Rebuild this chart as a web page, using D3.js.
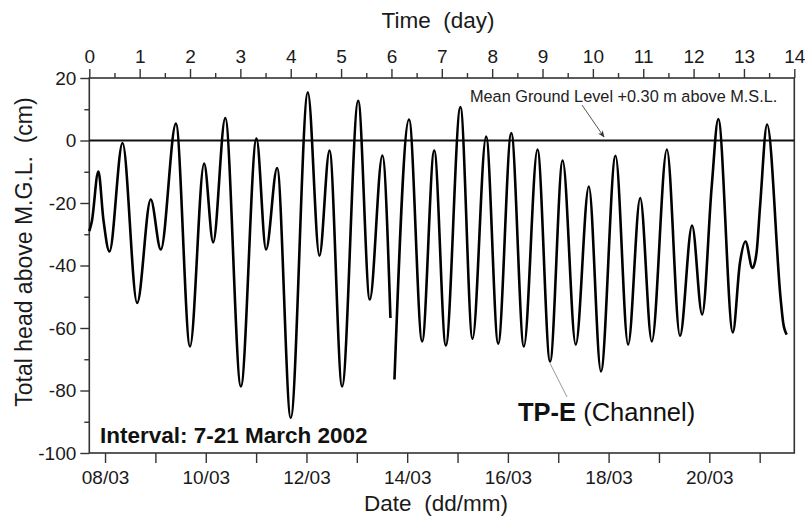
<!DOCTYPE html>
<html>
<head>
<meta charset="utf-8">
<script src="https://cdn.jsdelivr.net/npm/d3@7"></script>
<style>
  html, body { margin: 0; padding: 0; background: #fff; }
  svg { display: block; font-family: "Liberation Sans", Arial, Helvetica, sans-serif; }
  .tick text { fill: #1a1a1a; }
</style>
</head>
<body>
<div id="chart"></div>
<script>
// Time in days since start of record (top axis), head in cm above M.G.L.
// A null head marks the short gap in the record near day 6.
const timeDays = [
  0, 0.05, 0.18, 0.28, 0.40, 0.66, 0.95, 1.22, 1.42, 1.72,
  2.00, 2.28, 2.46, 2.70, 3.01, 3.32, 3.51, 3.73, 4.00, 4.34,
  4.57, 4.77, 5.02, 5.34, 5.57, 5.82, 5.98, 6.02, 6.06, 6.35,
  6.61, 6.85, 7.08, 7.37, 7.61, 7.88, 8.12, 8.38, 8.63, 8.90,
  9.15, 9.40, 9.66, 9.92, 10.16, 10.45, 10.70, 10.94, 11.17, 11.47,
  11.73, 11.97, 12.17, 12.36, 12.49, 12.78, 12.92, 13.03, 13.17, 13.25,
  13.32, 13.46, 13.73, 13.78, 13.85
];
const headCm = [
  -29, -25.9, -9.9, -25.3, -35.5, -0.8, -52.0, -18.9, -34.9, 5.4,
  -65.9, -7.4, -32.6, 7.2, -78.7, 0.6, -34.9, -8.8, -88.8, 15.4,
  -36.9, -3.2, -78.7, 12.7, -50.9, -4.8, -56.8, null, -76.5, 6.7,
  -64.3, -3.2, -65.6, 10.7, -63.5, 1.3, -65.0, 2.4, -65.9, -2.9,
  -70.7, -6.4, -65.3, -14.7, -73.9, -4.9, -65.3, -18.4, -64.3, -2.9,
  -62.5, -27.2, -55.7, -14.7, 6.9, -61.4, -39.2, -32.3, -40.8, -35.9,
  -21.1, 5.1, -50.9, -58.4, -62.1
];

const dayTicks = d3.range(0, 15);
const dayMinorTicks = d3.range(0.5, 14, 1);
const headTicks = [-100, -80, -60, -40, -20, 0, 20];
const headMinorTicks = [-90, -70, -50, -30, -10, 10];
const startDate = new Date(2002, 2, 7, 16, 30); // day 0 of the record

const width = 805, height = 520;
const ink = '#1a1a1a';

const svg = d3.select('#chart').append('svg')
  .attr('width', width)
  .attr('height', height);

const x = d3.scaleLinear().domain([0, 14]).range([89.3, 794.3]);
const y = d3.scaleLinear().domain([-100, 20]).range([453, 78]);
const xDate = d3.scaleTime()
  .domain([startDate, d3.timeDay.offset(startDate, 14)])
  .range(x.range());

// arrow head for the ground level note
svg.append('defs').append('marker')
  .attr('id', 'arrow')
  .attr('viewBox', '0 0 10 10')
  .attr('refX', 9).attr('refY', 5)
  .attr('markerWidth', 7).attr('markerHeight', 7)
  .attr('orient', 'auto')
  .append('path')
  .attr('d', 'M0,1 L10,5 L0,9 L3,5 Z')
  .attr('fill', '#333');

function styleAxis(g) {
  g.select('.domain').remove();
  g.selectAll('.tick line').attr('stroke', '#333').attr('stroke-width', 1.4);
}

// top axis: time in days
svg.append('g')
  .attr('transform', `translate(0,${y(20)})`)
  .call(d3.axisTop(x).tickValues(dayTicks).tickSize(9).tickPadding(6).tickFormat(d3.format('d')))
  .call(styleAxis)
  .selectAll('text').attr('font-size', 19).attr('font-family', null);
svg.append('g')
  .attr('transform', `translate(0,${y(20)})`)
  .call(d3.axisTop(x).tickValues(dayMinorTicks).tickSize(5).tickFormat(''))
  .call(styleAxis);

// left axis: head (plain hyphen for negatives, as in the original)
svg.append('g')
  .attr('transform', `translate(${x(0)},0)`)
  .call(d3.axisLeft(y).tickValues(headTicks).tickSize(9).tickPadding(4).tickFormat(d => String(d)))
  .call(styleAxis)
  .selectAll('text').attr('font-size', 19).attr('font-family', null);
svg.append('g')
  .attr('transform', `translate(${x(0)},0)`)
  .call(d3.axisLeft(y).tickValues(headMinorTicks).tickSize(5).tickFormat(''))
  .call(styleAxis);

// bottom axis: calendar date, a tick each day, labels every second day
svg.append('g')
  .attr('transform', `translate(0,${y(-100)})`)
  .call(d3.axisBottom(xDate)
    .ticks(d3.timeDay.every(1))
    .tickSize(10).tickPadding(8)
    .tickFormat(d => d.getDate() % 2 === 0 ? d3.timeFormat('%d/%m')(d) : ''))
  .call(styleAxis)
  .selectAll('text').attr('font-size', 19).attr('font-family', null);

// plot frame
svg.append('rect')
  .attr('x', x(0)).attr('y', y(20))
  .attr('width', x(14) - x(0)).attr('height', y(-100) - y(20))
  .attr('fill', 'none').attr('stroke', '#333').attr('stroke-width', 1.6);

// mean ground level line
svg.append('line')
  .attr('x1', x(0)).attr('x2', x(14))
  .attr('y1', y(0)).attr('y2', y(0))
  .attr('stroke', '#111').attr('stroke-width', 2.2);

// head record
const points = timeDays.map((t, i) => ({ t: t, h: headCm[i] }));
const line = d3.line()
  .defined(d => d.h !== null)
  .x(d => x(d.t))
  .y(d => y(d.h))
  .curve(d3.curveMonotoneX);

svg.append('path')
  .datum(points)
  .attr('d', line)
  .attr('fill', 'none')
  .attr('stroke', '#000')
  .attr('stroke-width', 2.6)
  .attr('stroke-linejoin', 'round');

// axis titles
svg.append('text')
  .attr('x', 438).attr('y', 28)
  .attr('text-anchor', 'middle')
  .attr('font-size', 22.5).attr('fill', ink)
  .attr('xml:space', 'preserve')
  .text('Time  (day)');

svg.append('text')
  .attr('x', 436).attr('y', 511)
  .attr('text-anchor', 'middle')
  .attr('font-size', 22.5).attr('fill', ink)
  .attr('xml:space', 'preserve')
  .text('Date  (dd/mm)');

svg.append('text')
  .attr('transform', 'translate(32,252) rotate(-90)')
  .attr('text-anchor', 'middle')
  .attr('font-size', 23).attr('fill', ink)
  .attr('xml:space', 'preserve')
  .text('Total head above M.G.L.  (cm)');

// annotations
svg.append('text')
  .attr('x', 470).attr('y', 102)
  .attr('font-size', 16.3).attr('fill', '#222')
  .text('Mean Ground Level +0.30 m above M.S.L.');

svg.append('line')
  .attr('x1', 582).attr('y1', 105)
  .attr('x2', 604).attr('y2', 137)
  .attr('stroke', '#555').attr('stroke-width', 1)
  .attr('marker-end', 'url(#arrow)');

svg.append('text')
  .attr('x', 100).attr('y', 443)
  .attr('font-size', 22.5).attr('font-weight', 'bold').attr('fill', '#111')
  .text('Interval: 7-21 March 2002');

const tp = svg.append('text')
  .attr('x', 518).attr('y', 421)
  .attr('font-size', 25.5).attr('fill', '#111');
tp.append('tspan').attr('font-weight', 'bold').text('TP-E');
tp.append('tspan').text(' (Channel)');

svg.append('line')
  .attr('x1', x(9.15)).attr('y1', y(-70.7) + 2)
  .attr('x2', 567).attr('y2', 397)
  .attr('stroke', '#999').attr('stroke-width', 1);
</script>
</body>
</html>
